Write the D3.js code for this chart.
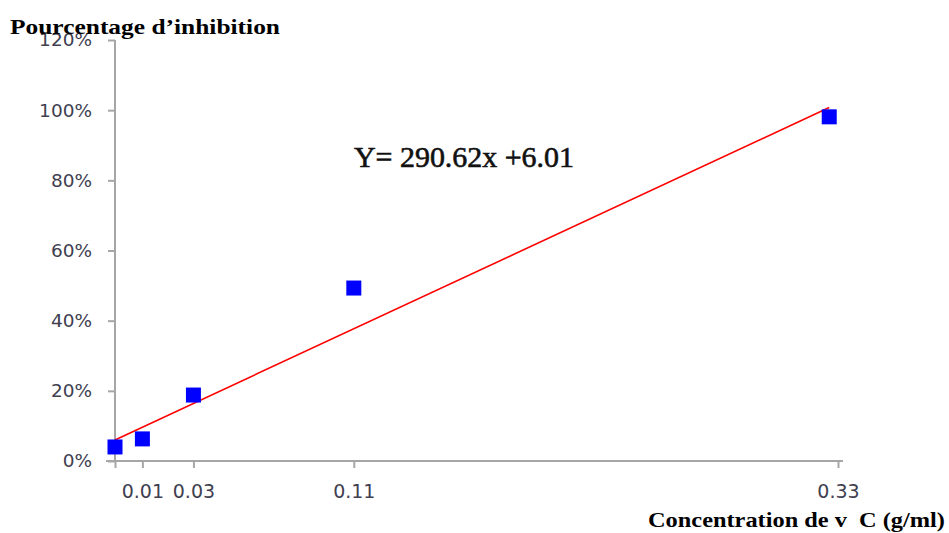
<!DOCTYPE html>
<html>
<head>
<meta charset="utf-8">
<script src="https://cdn.jsdelivr.net/npm/d3@7/dist/d3.min.js"></script>
<style>
  html, body { margin: 0; padding: 0; background: #fff; }
  svg { display: block; }
  text { white-space: pre; }
</style>
</head>
<body>
<svg id="chart" width="949" height="533"></svg>
<script>
// Concentration (g/ml) and measured inhibition (%)
const concentrations = [0, 0.0125, 0.0358, 0.109, 0.326];
const inhibition = [4.0, 6.3, 18.8, 49.3, 98.1];

// Linear fit shown on the chart
const slope = 290.62;
const intercept = 6.01;

// Axis ticks: positions and their printed labels
const xTicks = [0, 0.0125, 0.0358, 0.109, 0.33];
const xTickLabels = ["", "0.01", "0.03", "0.11", "0.33"];
const yTicks = [0, 20, 40, 60, 80, 100, 120];

const svg = d3.select("#chart");

const x = d3.scaleLinear().domain([0, 0.33]).range([115, 838]);
const y = d3.scaleLinear().domain([0, 120]).range([461, 40]);

const axisColor = "#a6a6a6";
const labelColor = "#404050";

// Y axis
const yAxis = svg.append("g")
  .attr("transform", `translate(${x(0)},0)`)
  .call(d3.axisLeft(y).tickValues(yTicks).tickSize(7).tickPadding(16)
    .tickFormat(d => d + "%"));
yAxis.select(".domain").attr("stroke", axisColor).attr("stroke-width", 2)
  .attr("d", `M0,${y(120)}V${y(0)}`);
yAxis.selectAll(".tick line").attr("stroke", axisColor).attr("stroke-width", 2);
yAxis.selectAll(".tick text")
  .attr("fill", labelColor)
  .style("font-family", "DejaVu Sans, Verdana, sans-serif")
  .style("font-size", "18.5px");

// X axis
const xAxis = svg.append("g")
  .attr("transform", `translate(0,${y(0)})`)
  .call(d3.axisBottom(x).tickValues(xTicks).tickSize(7).tickPadding(17)
    .tickFormat((d, i) => xTickLabels[i]));
xAxis.select(".domain").attr("stroke", axisColor).attr("stroke-width", 2)
  .attr("d", `M${x(0) - 9},0H${x(0.33) + 5}`);
xAxis.selectAll(".tick line").attr("stroke", axisColor).attr("stroke-width", 2);
xAxis.selectAll(".tick text")
  .attr("fill", labelColor)
  .style("font-family", "DejaVu Sans, Verdana, sans-serif")
  .style("font-size", "19px");

// Trend line from the fitted equation
const xEnd = concentrations[concentrations.length - 1];
const fit = [0, xEnd].map(c => [c, slope * c + intercept]);
svg.append("path")
  .datum(fit)
  .attr("fill", "none")
  .attr("stroke", "#ff0000")
  .attr("stroke-width", 1.6)
  .attr("d", d3.line().x(d => x(d[0])).y(d => y(d[1])));

// Measured points
const size = 15;
svg.append("g").selectAll("rect")
  .data(concentrations.map((c, i) => [c, inhibition[i]]))
  .join("rect")
  .attr("x", d => x(d[0]) - size / 2)
  .attr("y", d => y(d[1]) - size / 2)
  .attr("width", size)
  .attr("height", size)
  .attr("fill", "#0000ff");

// Titles
svg.append("text")
  .attr("x", 10).attr("y", 34)
  .attr("textLength", 270).attr("lengthAdjust", "spacingAndGlyphs")
  .style("font-family", "Liberation Serif, Times New Roman, serif")
  .style("font-weight", "bold")
  .style("font-size", "21px")
  .attr("fill", "#000")
  .text("Pourcentage d’inhibition");

svg.append("text")
  .attr("x", 648).attr("y", 527)
  .attr("textLength", 297).attr("lengthAdjust", "spacingAndGlyphs")
  .style("font-family", "Liberation Serif, Times New Roman, serif")
  .style("font-weight", "bold")
  .style("font-size", "21px")
  .attr("fill", "#000")
  .text("Concentration de v  C (g/ml)");

svg.append("text")
  .attr("x", 354).attr("y", 167)
  .attr("textLength", 220).attr("lengthAdjust", "spacingAndGlyphs")
  .style("font-family", "Liberation Serif, Times New Roman, serif")
  .style("font-size", "30px")
  .attr("fill", "#111")
  .attr("stroke", "#111").attr("stroke-width", 0.6)
  .text(`Y= ${slope}x +${intercept}`);
</script>
</body>
</html>
